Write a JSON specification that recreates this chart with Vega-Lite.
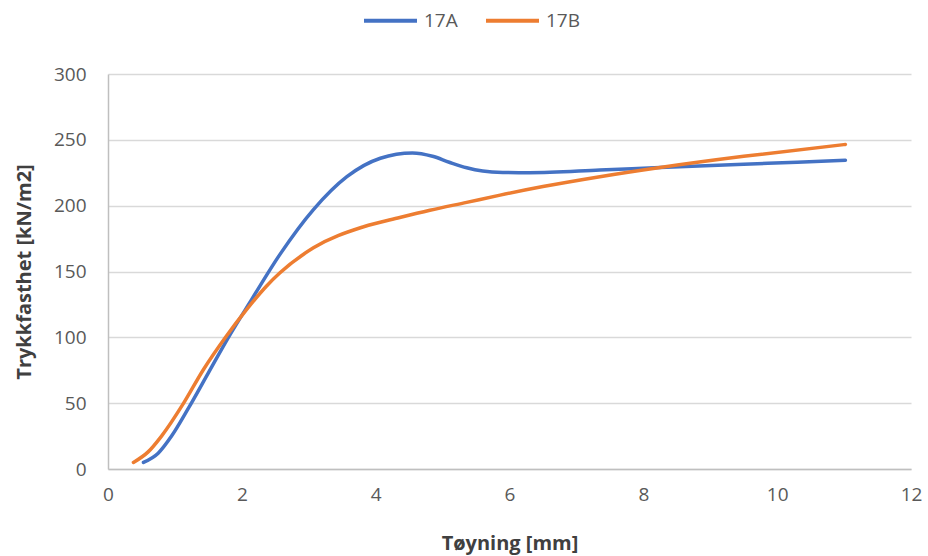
{
  "$schema": "https://vega.github.io/schema/vega-lite/v6.json",
  "width": 803,
  "height": 395,
  "autosize": {"type": "none"},
  "padding": {"left": 108, "top": 74, "right": 17, "bottom": 87},
  "background": "white",
  "data": {
    "values": [
      {"x": 0.53, "y": 5, "s": "17A"},
      {"x": 0.75, "y": 12, "s": "17A"},
      {"x": 0.95, "y": 25, "s": "17A"},
      {"x": 1.2, "y": 46, "s": "17A"},
      {"x": 1.5, "y": 73, "s": "17A"},
      {"x": 1.8, "y": 100, "s": "17A"},
      {"x": 2.15, "y": 129, "s": "17A"},
      {"x": 2.57, "y": 163, "s": "17A"},
      {"x": 3.07, "y": 197, "s": "17A"},
      {"x": 3.57, "y": 222, "s": "17A"},
      {"x": 4.07, "y": 236, "s": "17A"},
      {"x": 4.55, "y": 240, "s": "17A"},
      {"x": 4.85, "y": 237.5, "s": "17A"},
      {"x": 5.1, "y": 233, "s": "17A"},
      {"x": 5.36, "y": 228.8, "s": "17A"},
      {"x": 5.6, "y": 226.3, "s": "17A"},
      {"x": 5.9, "y": 225.2, "s": "17A"},
      {"x": 6.3, "y": 225, "s": "17A"},
      {"x": 7.35, "y": 227, "s": "17A"},
      {"x": 8.25, "y": 229, "s": "17A"},
      {"x": 9.5, "y": 231.5, "s": "17A"},
      {"x": 10.3, "y": 233, "s": "17A"},
      {"x": 11.02, "y": 234.5, "s": "17A"},
      {"x": 0.38, "y": 5, "s": "17B"},
      {"x": 0.6, "y": 13, "s": "17B"},
      {"x": 0.8, "y": 25, "s": "17B"},
      {"x": 1.13, "y": 50, "s": "17B"},
      {"x": 1.42, "y": 75, "s": "17B"},
      {"x": 1.77, "y": 101, "s": "17B"},
      {"x": 2.07, "y": 121, "s": "17B"},
      {"x": 2.37, "y": 139, "s": "17B"},
      {"x": 2.57, "y": 149, "s": "17B"},
      {"x": 3.07, "y": 168, "s": "17B"},
      {"x": 3.82, "y": 184, "s": "17B"},
      {"x": 4.36, "y": 191, "s": "17B"},
      {"x": 4.81, "y": 196.5, "s": "17B"},
      {"x": 5.36, "y": 202.5, "s": "17B"},
      {"x": 5.86, "y": 208, "s": "17B"},
      {"x": 6.5, "y": 214.5, "s": "17B"},
      {"x": 7.35, "y": 222, "s": "17B"},
      {"x": 8.25, "y": 229, "s": "17B"},
      {"x": 9.5, "y": 237.5, "s": "17B"},
      {"x": 11.02, "y": 246.5, "s": "17B"}
    ]
  },
  "mark": {"type": "line", "interpolate": "monotone", "strokeWidth": 3.5, "strokeCap": "round"},
  "encoding": {
    "x": {
      "field": "x",
      "type": "quantitative",
      "scale": {"domain": [0, 12], "nice": false, "zero": false},
      "axis": {
        "title": "Tøyning [mm]",
        "values": [0, 2, 4, 6, 8, 10, 12],
        "grid": false,
        "tickSize": 0,
        "labelFlush": false,
        "labelOverlap": false,
        "labelPadding": 16,
        "titlePadding": 29
      }
    },
    "y": {
      "field": "y",
      "type": "quantitative",
      "scale": {"domain": [0, 300], "nice": false},
      "axis": {
        "title": "Trykkfasthet [kN/m2]",
        "values": [0, 50, 100, 150, 200, 250, 300],
        "grid": true,
        "tickSize": 0,
        "labelFlush": false,
        "labelOverlap": false,
        "labelPadding": 22,
        "titlePadding": 19
      }
    },
    "color": {
      "field": "s",
      "type": "nominal",
      "title": null,
      "scale": {"domain": ["17A", "17B"], "range": ["#4472C4", "#ED7D31"]},
      "legend": {
        "orient": "none",
        "direction": "horizontal",
        "legendX": 254,
        "legendY": -82,
        "symbolType": "stroke",
        "symbolSize": 2809,
        "symbolStrokeWidth": 4,
        "columnPadding": 20,
        "labelOffset": 5
      }
    }
  },
  "config": {
    "font": "Open Sans",
    "view": {"stroke": null},
    "axis": {
      "labelFont": "Open Sans",
      "labelFontSize": 19,
      "labelColor": "#595959",
      "titleFont": "Open Sans",
      "titleFontSize": 20,
      "titleFontWeight": "bold",
      "titleColor": "#404040",
      "domainColor": "#BFBFBF",
      "domainWidth": 1.5,
      "gridColor": "#D9D9D9",
      "gridWidth": 1.5
    },
    "legend": {
      "labelFont": "Open Sans",
      "labelFontSize": 19,
      "labelColor": "#595959"
    }
  }
}
